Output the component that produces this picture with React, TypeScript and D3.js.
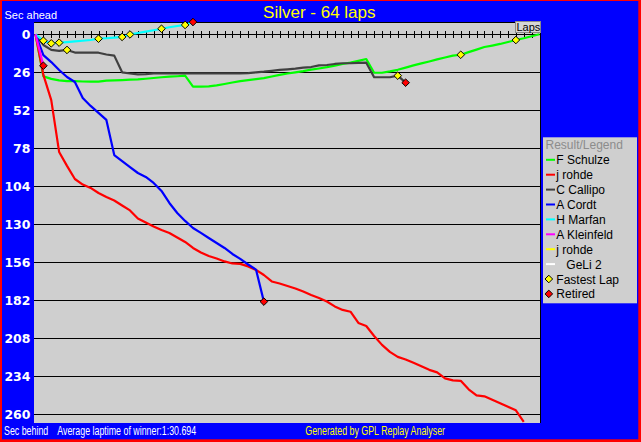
import React from "react";
import * as d3 from "d3";

// ---------- data ----------
const totalLaps = 64;
const yTickValues = [0, 26, 52, 78, 104, 130, 156, 182, 208, 234, 260];

const driverNames = ["F Schulze", "j rohde", "C Callipo", "A Cordt", "H Marfan", "A Kleinfeld", "j rohde", "   GeLi 2"];
const driverColors = ["#00ff00", "#ff0000", "#404040", "#0000ff", "#00ffff", "#ff00ff", "#ffff00", "#ffffff"];

// seconds behind per lap (index = lap)
const schulze = [0, 28.8, 30.5, 31.5, 32, 32, 32.3, 32.4, 32.4, 31.7, 31.5, 31.3, 31, 30.8, 30.4, 29.9, 29.4, 29, 28.7, 28.3,
  35.8, 35.8, 35.6, 34.9, 34, 33, 32, 31.4, 30.7, 30, 28.9, 27.8, 26.8, 26, 25.2, 24.2, 23.4, 22.5, 21.4, 20.3, 19.4, 18.2, 16.9,
  26.3, 26.3, 25.4, 24.3, 22.8, 21.3, 19.9, 18.6, 17.2, 15.9, 14.6, 14, 12.2, 10.5, 8.7, 7.7, 6.6, 5.3, 3.9, 2.7, 1.3, 0];
const rohde = [0, 27.8, 45, 80.5, 90, 99, 102.8, 105.1, 108.6, 111.3, 113.7, 117.1, 120.5, 126, 128.8, 131.5, 133.9, 136, 139,
  142.1, 146.2, 149.3, 151.7, 153.4, 155.4, 156.8, 157.1, 158.8, 161.2, 164.7, 169.1, 170.5, 172.2, 173.9, 176, 178.4, 180.4,
  182.8, 186.2, 188.6, 189.8, 197.5, 199.6, 206.4, 212.5, 217.3, 220.7, 222.5, 224.8, 227.2, 229.6, 231.3, 235.4, 236.8, 237.1,
  242.9, 247, 247.7, 250.1, 252.5, 254.9, 257.3, 265.2];
const callipo = [0, 7.3, 10.7, 11.4, 10.7, 12.5, 12.6, 12.6, 12.6, 13.8, 14.6, 26, 26.8, 27.4, 27.2, 26.8, 26.7, 26.7, 26.7, 26.7,
  26.7, 26.7, 26.7, 26.7, 26.7, 26.7, 26.7, 26.5, 26, 25.6, 25, 24.4, 24, 23.5, 22.8, 22.4, 21.3, 21, 20.3, 19.8, 19.8, 19.6,
  19.4, 29.4, 29.4, 29.4, 28.3, 33.1];
const cordt = [0, 14.2, 19, 24.4, 29.2, 32.6, 43.6, 49, 53.8, 58.6, 82.6, 86.7, 90.8, 94.9, 97.6, 101.7, 107.2, 115.4, 122.3,
  127.7, 132.5, 135.9, 139.4, 142.8, 146.2, 150.3, 153.7, 157.5, 161, 182.9];
const marfan = [0, 4.4, 6.2, 5.7, 5.3, 4.8, 4.4, 3.9, 3.0, 2.7, 2.3, 1.8, 0.1, -0.9, -1.8, -2.8, -3.8, -4.8, -5.7, -6.4, -8.4];
const kleinfeld = [0, 21.5];
const rohde2 = [0];
const geli = [0];

const seriesValues = [schulze, rohde, callipo, cordt, marfan, kleinfeld, rohde2, geli];
const fastestLaps = [[54, 61], [], [4, 46], [], [1, 2, 3, 8, 11, 12, 16, 19], [], [], []];
const retired = [false, false, true, true, true, true, false, false];

const legendExtra = ["Fastest Lap", "Retired"];

// ---------- component ----------
const W = 641;
const H = 442;
const PL = 34, PR = 540.5, PT = 22, PB = 423;
const FONT = "'Liberation Sans', Arial, sans-serif";

const diamond = "M0,-3.8L3.8,0L0,3.8L-3.8,0Z";

function NarrowText(props: { x: number; y: number; fill: string; children: string }) {
  return (
    <g transform={`translate(${props.x},${props.y}) scale(0.655,1)`}>
      <text x={0} y={0} fontSize={13.5} fill={props.fill}>{props.children}</text>
    </g>
  );
}

export default function App() {
  const x = d3.scaleLinear().domain([0, totalLaps]).range([35.5, 539.5]);
  const y = d3.scaleLinear().domain([0, 260]).range([34.3, 414.3]);
  const line = d3.line<number>().x((_, i) => x(i)).y((d) => y(d));
  const xTicks = d3.range(1, totalLaps);

  const legendBaseline = (i: number) => 164.3 + i * 14.9;

  return (
    <svg width={W} height={H} style={{ position: "absolute", left: 0, top: 0 }} fontFamily={FONT}>
      <rect x={0} y={0} width={W} height={H} fill="#ff0000" />
      <rect x={2} y={1} width={636.3} height={438.3} fill="#0000ff" />

      {/* plot area */}
      <rect x={PL} y={PT} width={PR - PL} height={PB - PT} fill="#cfcfcf" />
      <line x1={PL} x2={PR} y1={PT + 0.5} y2={PT + 0.5} stroke="#000" />
      <line x1={PR} x2={PR} y1={PT} y2={PB} stroke="#000" />

      {/* gridlines */}
      {yTickValues.slice(1).map((v) => (
        <line key={v} x1={PL} x2={PR} y1={Math.round(y(v)) + 0.5} y2={Math.round(y(v)) + 0.5} stroke="#000" />
      ))}
      {/* zero axis with lap ticks */}
      <line x1={PL} x2={PR} y1={34.5} y2={34.5} stroke="#000" />
      {xTicks.map((t) => (
        <line key={t} x1={Math.round(x(t)) + 0.5} x2={Math.round(x(t)) + 0.5} y1={31} y2={38} stroke="#000" />
      ))}

      {/* y labels */}
      {yTickValues.map((v) => (
        <text key={v} x={30.5} y={y(v) + 4.8} textAnchor="end" fill="#fff" fontFamily="'DejaVu Sans', sans-serif"
          fontWeight="bold" fontSize={12.5}>{v}</text>
      ))}

      {/* series lines */}
      <defs>
        <clipPath id="plotclip">
          <rect x={PL} y={PT} width={PR - PL} height={PB - PT} />
        </clipPath>
      </defs>
      <g clipPath="url(#plotclip)">
        {seriesValues.map((vals, si) =>
          vals.length > 1 ? (
            <path key={si} d={line(vals) || ""} fill="none" stroke={driverColors[si]} strokeWidth={2.2}
              strokeLinejoin="round" />
          ) : null
        )}
      </g>

      {/* markers */}
      {seriesValues.map((vals, si) => (
        <g key={"m" + si}>
          {fastestLaps[si].map((lap) => (
            <path key={lap} d={diamond} transform={`translate(${x(lap)},${y(vals[lap])})`} fill="#ffff00"
              stroke="#000" strokeWidth={1} />
          ))}
          {retired[si] && vals.length > 1 ? (
            <path d={diamond} transform={`translate(${x(vals.length - 1)},${y(vals[vals.length - 1])})`}
              fill="#ff0000" stroke="#000" strokeWidth={1} />
          ) : null}
        </g>
      ))}

      {/* Laps label box */}
      <rect x={515.5} y={21.5} width={25} height={11} fill="#d6d6d6" stroke="#8a8a8a" strokeWidth={1} />
      <text x={516.5} y={31} fontSize={11} fill="#000">Laps</text>

      {/* titles */}
      <text x={319.3} y={18.3} textAnchor="middle" fontSize={17} fill="#ffff00">Silver - 64 laps</text>
      <text x={4.5} y={19.3} fontSize={11} fill="#fff">Sec ahead</text>
      <NarrowText x={4} y={435.3} fill="#fff">Sec behind</NarrowText>
      <NarrowText x={57.3} y={435.3} fill="#fff">Average laptime of winner:1:30.694</NarrowText>
      <NarrowText x={305.3} y={435.3} fill="#ffff00">Generated by GPL Replay Analyser</NarrowText>

      {/* legend */}
      <rect x={543} y={137.3} width={94} height={166} fill="#cfcfcf" />
      <text x={545.5} y={148.7} fontSize={12} fill="#8c8c8c">Result/Legend</text>
      {driverNames.map((name, i) => (
        <g key={"l" + i}>
          <line x1={546} x2={555} y1={legendBaseline(i) - 4.5} y2={legendBaseline(i) - 4.5} stroke={driverColors[i]}
            strokeWidth={2} />
          <text x={556.3} y={legendBaseline(i)} fontSize={12} fill="#000" style={{ whiteSpace: "pre" }}>{name}</text>
        </g>
      ))}
      {legendExtra.map((name, j) => {
        const i = driverNames.length + j;
        return (
          <g key={"e" + j}>
            <path d={diamond} transform={`translate(548.8,${legendBaseline(i) - 4.5})`}
              fill={j === 0 ? "#ffff00" : "#ff0000"} stroke="#000" strokeWidth={1} />
            <text x={556.3} y={legendBaseline(i)} fontSize={12} fill="#000">{name}</text>
          </g>
        );
      })}
    </svg>
  );
}
